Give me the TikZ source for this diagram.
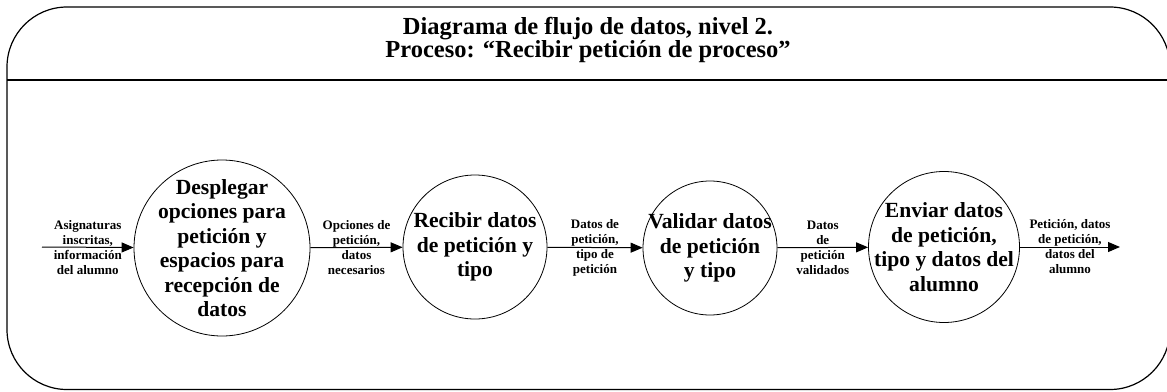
\documentclass[tikz,border=0pt]{standalone}
\usepackage{fontspec}
\setmainfont{Liberation Serif}
\usetikzlibrary{arrows.meta}

\begin{document}
\begin{tikzpicture}[->,>={Triangle[length=12pt,width=10pt]},x=1pt,y=-1pt]
	\tikzstyle{proc}=[draw,shape=circle,inner sep=0pt,line width=0.8pt];
	\tikzstyle{ptext}=[align=center,inner sep=0pt,font=\bfseries\fontsize{21.6}{24.5}\selectfont];
	\tikzstyle{title}=[align=center,inner sep=0pt,font=\bfseries\fontsize{24.5}{23.8}\selectfont];
	\tikzstyle{lbl}=[align=center,inner sep=0pt,font=\bfseries\fontsize{13}{15}\selectfont];
	\tikzstyle{flow}=[draw,line width=1pt];

	\useasboundingbox (0,0) rectangle (1167,391);
	\draw[-,line width=1.2pt,rounded corners=60pt] (7,7) rectangle (1170,389.5);
	\draw[-,line width=1.5pt] (7,80) -- (1170,80);
	\node at (588, 40) (t) [title] {Diagrama de flujo de datos, nivel 2.\\Proceso: “Recibir petición de proceso”};

	\node at (222, 248) (c1) [proc,minimum size=176pt,label={[ptext]center:{Desplegar\\opciones para\\petición y\\espacios para\\recepción de\\datos}}] {};
	\node at (475, 247) (c2) [proc,minimum size=144pt,label={[ptext]center:{Recibir datos\\de petición y\\tipo}}] {};
	\node at (710, 248) (c3) [proc,minimum size=134pt,label={[ptext]center:{Validar datos\\de petición\\y tipo}}] {};
	\node at (944, 247) (c4) [proc,minimum size=151pt,label={[ptext]center:{Enviar datos\\de petición,\\tipo y datos del\\alumno}}] {};

	\coordinate (in) at (42, 247);
	\coordinate (out) at (1120, 247);

	\draw[flow] (in) -- node[lbl] {Asignaturas\\inscritas,\\información\\del alumno} (c1);
	\draw[flow] (c1) -- node[lbl] {Opciones de\\petición,\\datos\\necesarios} (c2);
	\draw[flow] (c2) -- node[lbl] {Datos de\\petición,\\tipo de\\petición} (c3);
	\draw[flow] (c3) -- node[lbl] {Datos\\de\\petición\\validados} (c4);
	\draw[flow] (c4) -- node[lbl] {Petición, datos\\de petición,\\datos del\\alumno} (out);
\end{tikzpicture}
\end{document}
